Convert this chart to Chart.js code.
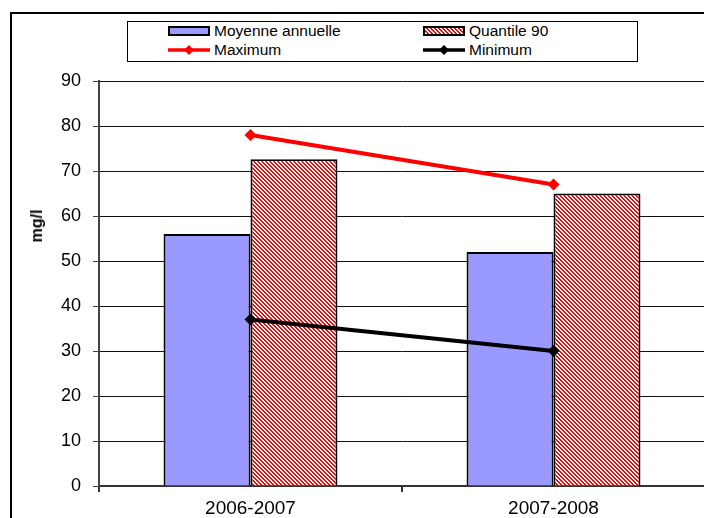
<!DOCTYPE html>
<html>
<head>
<meta charset="utf-8">
<script src="https://cdn.jsdelivr.net/npm/chart.js@4.4.1/dist/chart.umd.min.js"></script>
<style>
  html, body { margin: 0; padding: 0; width: 704px; height: 518px; overflow: hidden; background: #fff; }
  #frame { position: absolute; left: 10px; top: 12px; width: 780px; height: 580px; border: 2px solid #000; box-sizing: border-box; }
  #wrap { position: absolute; left: 0; top: 0; width: 720px; height: 540px; }
  #legend { position: absolute; left: 127px; top: 21px; width: 511px; height: 41px; border: 1px solid #000; box-sizing: border-box; background: #fff;
            font-family: 'Liberation Sans', Arial, sans-serif; font-size: 15.5px; color: #000; }
  .item { position: absolute; display: flex; align-items: center; height: 18px; white-space: nowrap; }
  .item canvas { display: block; margin-right: 4px; }
  #ytitle { position: absolute; left: 37px; top: 226px; transform: translate(-50%, -50%) rotate(-90deg);
            font: bold 16px 'Liberation Sans', Arial, sans-serif; white-space: nowrap; color: #000; }
</style>
</head>
<body>
<div id="frame"></div>
<div id="wrap"><canvas id="chart" width="720" height="540"></canvas></div>
<div id="legend"></div>
<div id="ytitle">mg/l</div>
<script>
// Teneurs annuelles (mg/l) par campagne
const categories = ['2006-2007', '2007-2008'];
const moyenneAnnuelle = [56, 52];
const quantile90 = [72.6, 65];
const maximum = [78, 67];
const minimum = [37, 30];
const yMin = 0, yMax = 90, yStep = 10;

const FONT = "'Liberation Sans', Arial, sans-serif";

// Red / white diagonal hatch used for the 90th percentile bars
function hatchPattern(ctx) {
  const c = document.createElement('canvas');
  c.width = 4; c.height = 4;
  const g = c.getContext('2d');
  g.fillStyle = '#ffffff';
  g.fillRect(0, 0, 4, 4);
  g.fillStyle = '#ff0000';
  for (let y = 0; y < 4; y++) {
    for (let x = 0; x < 4; x++) {
      if ((((x - y) % 4) + 4) % 4 < 2) g.fillRect(x, y, 1, 1);
    }
  }
  return ctx.createPattern(c, 'repeat');
}

const canvas = document.getElementById('chart');
const ctx = canvas.getContext('2d');
const hatch = hatchPattern(ctx);

// Legend laid out in two columns inside a boxed frame
const slots = [
  { left: 40, top: 0 }, { left: 295, top: 0 },
  { left: 40, top: 19 }, { left: 295, top: 19 }
];
function drawSymbol(ds) {
  const c = document.createElement('canvas');
  c.width = 42; c.height = 12;
  const g = c.getContext('2d');
  if (ds.type === 'line') {
    g.strokeStyle = ds.borderColor;
    g.lineWidth = 3.5;
    g.beginPath(); g.moveTo(0, 6); g.lineTo(42, 6); g.stroke();
    g.fillStyle = ds.pointBackgroundColor;
    g.beginPath(); g.moveTo(21, 1); g.lineTo(26, 6); g.lineTo(21, 11); g.lineTo(16, 6); g.closePath(); g.fill();
  } else {
    g.fillStyle = ds.backgroundColor;
    g.fillRect(1, 2, 40, 8);
    g.strokeStyle = '#000';
    g.lineWidth = 2;
    g.strokeRect(1, 2, 40, 8);
  }
  return c;
}
const htmlLegend = {
  id: 'htmlLegend',
  afterUpdate(chart) {
    const box = document.getElementById('legend');
    box.innerHTML = '';
    chart.data.datasets.forEach((ds, i) => {
      const item = document.createElement('div');
      item.className = 'item';
      item.style.left = slots[i].left + 'px';
      item.style.top = slots[i].top + 'px';
      item.appendChild(drawSymbol(ds));
      const span = document.createElement('span');
      span.textContent = ds.label;
      item.appendChild(span);
      box.appendChild(item);
    });
  }
};

new Chart(ctx, {
  data: {
    labels: categories,
    datasets: [
      { type: 'bar', label: 'Moyenne annuelle', data: moyenneAnnuelle, backgroundColor: '#9999ff',
        borderColor: '#000', borderWidth: 2, order: 1,
        categoryPercentage: 0.574, barPercentage: 1.0 },
      { type: 'bar', label: 'Quantile 90', data: quantile90, backgroundColor: hatch,
        borderColor: '#000', borderWidth: 2, order: 1,
        categoryPercentage: 0.574, barPercentage: 1.0 },
      { type: 'line', label: 'Maximum', data: maximum, borderColor: '#ff0000', borderWidth: 4,
        pointStyle: 'rectRot', pointRadius: 6, pointBackgroundColor: '#ff0000', pointBorderColor: '#ff0000',
        pointBorderWidth: 0, tension: 0, order: 0 },
      { type: 'line', label: 'Minimum', data: minimum, borderColor: '#000000', borderWidth: 4,
        pointStyle: 'rectRot', pointRadius: 6, pointBackgroundColor: '#000000', pointBorderColor: '#000000',
        pointBorderWidth: 0, tension: 0, order: 0 }
    ]
  },
  options: {
    responsive: false,
    animation: false,
    devicePixelRatio: 1,
    layout: { padding: { left: 0, top: 81, right: 15, bottom: 0 } },
    plugins: { legend: { display: false }, tooltip: { enabled: false } },
    scales: {
      x: {
        type: 'category',
        offset: true,
        afterFit(scale) { scale.height = 54; },
        grid: { offset: true, drawOnChartArea: false, drawTicks: true, tickLength: 6, color: '#333', lineWidth: 2 },
        border: { display: true, color: '#333', width: 2 },
        ticks: { color: '#000', font: { family: FONT, size: 19 }, padding: 5, maxRotation: 0 }
      },
      y: {
        min: yMin, max: yMax,
        afterFit(scale) { scale.width = 99; },
        grid: { color: '#111', lineWidth: 1, drawTicks: true, tickLength: 6, tickColor: '#444' },
        border: { display: true, color: '#444', width: 2 },
        ticks: { stepSize: yStep, color: '#000', font: { family: FONT, size: 18 }, padding: 12 }
      }
    }
  },
  plugins: [htmlLegend]
});
</script>
</body>
</html>
